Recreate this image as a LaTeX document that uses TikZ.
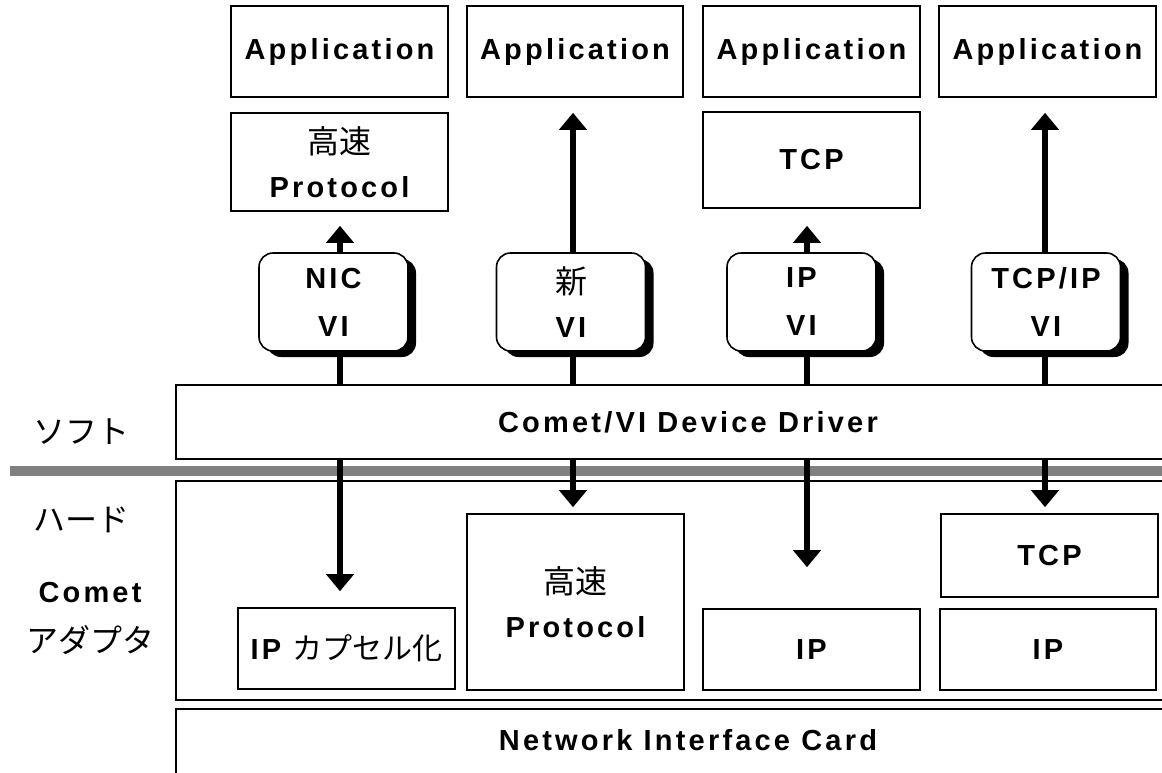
\documentclass[tikz,border=0pt]{standalone}
\usepackage{fontspec}
\setmainfont{Liberation Sans}
\newfontfamily\latinbold{Liberation Sans Bold}[LetterSpace=11]
\newfontfamily\cjkjp{Noto Sans CJK JP}
\usetikzlibrary{arrows.meta,shadows}
% bold, tracked Latin labels and Japanese labels
\newcommand\ENf{\latinbold\fontsize{29}{33}\selectfont}
\newcommand\JPf{\cjkjp\fontsize{32}{36}\selectfont}
\begin{document}
\begin{tikzpicture}[x=1pt,y=-1pt,
  box/.style={draw, line width=1.6pt, fill=white, inner sep=0pt, align=center, font=\ENf},
  vibox/.style={draw, line width=1.6pt, fill=white, rounded corners=14pt,
    minimum width=149pt, minimum height=98pt, inner sep=0pt, align=center, font=\ENf,
    drop shadow={shadow xshift=8pt, shadow yshift=-6pt, fill=black, opacity=1}},
  link/.style={line width=5.5pt},
  arr/.style={line width=5.5pt, -{Triangle[width=27pt,length=17pt]}},
  side/.style={inner sep=0pt, align=center}]
\useasboundingbox (0,0) rectangle (1162,772);

% column positions of the vertical paths
\coordinate (c1) at (340,0);
\coordinate (c2) at (573,0);
\coordinate (c3) at (807,0);
\coordinate (c4) at (1045,0);

% upper row: applications
\node[box, minimum width=217pt, minimum height=91pt] (app1) at (339.5,51.5) {Application};
\node[box, minimum width=216pt, minimum height=91pt] (app2) at (575,51.5) {Application};
\node[box, minimum width=217pt, minimum height=91pt] (app3) at (811.5,51.5) {Application};
\node[box, minimum width=217pt, minimum height=91pt] (app4) at (1047.5,51.5) {Application};

% software protocol layers
\node[box, minimum width=217pt, minimum height=98pt] (proto1) at (339.5,162)
  {{\JPf 高速}\\[11pt]Protocol};
\node[box, minimum width=217pt, minimum height=96pt] (tcp1) at (811.5,160) {TCP};

% separator between software and hardware
\fill[black!50] (10,466) rectangle (1170,476);

% driver, adapter and card layers
\node[box, minimum width=1024pt, minimum height=74pt] (drv) at (688,422) {Comet/VI Device Driver};
\node[box, minimum width=1024pt, minimum height=219pt] (hw) at (688,590.5) {};
\node[box, minimum width=1024pt, minimum height=91pt] (nic) at (688,754.5) {};
\node[side, font=\ENf] (niclabel) at (688,740) {Network Interface Card};

% hardware protocol blocks
\node[box, minimum width=217pt, minimum height=81pt] (ipc) at (346.5,648.5)
  {IP {\cjkjp\fontsize{30}{36}\selectfont カプセル化}};
\node[box, minimum width=217pt, minimum height=176pt] (proto2) at (575.5,602)
  {{\JPf 高速}\\[11pt]Protocol};
\node[box, minimum width=217pt, minimum height=81pt] (ip1) at (811.5,649.5) {IP};
\node[box, minimum width=217pt, minimum height=83pt] (tcp2) at (1049.5,555.5) {TCP};
\node[box, minimum width=216pt, minimum height=81pt] (ip2) at (1048,649.5) {IP};

% virtual interfaces
\node[vibox] (vi1) at (333.5,302) {NIC\\[15pt]VI};
\node[vibox] (vi2) at (571,302) {{\JPf 新}\\[11pt]VI};
\node[vibox] (vi3) at (801.5,302) {IP\\[15pt]VI};
\node[vibox] (vi4) at (1046,302) {TCP/IP\\[15pt]VI};

% links from the VIs to the driver
\draw[link] (c1 |- vi1.south) -- (c1 |- drv.north);
\draw[link] (c2 |- vi2.south) -- (c2 |- drv.north);
\draw[link] (c3 |- vi3.south) -- (c3 |- drv.north);
\draw[link] (c4 |- vi4.south) -- (c4 |- drv.north);

% upward arrows from the VIs
\draw[arr, shorten >=14pt] (c1 |- vi1.north) -- (c1 |- proto1.south);
\draw[arr, shorten >=15pt] (c2 |- vi2.north) -- (c2 |- app2.south);
\draw[arr, shorten >=17pt] (c3 |- vi3.north) -- (c3 |- tcp1.south);
\draw[arr, shorten >=15pt] (c4 |- vi4.north) -- (c4 |- app4.south);

% downward arrows from the driver into the adapter
\draw[arr, shorten >=16pt] (c1 |- drv.south) -- (c1 |- ipc.north);
\draw[arr, shorten >=6pt] (c2 |- drv.south) -- (c2 |- proto2.north);
\draw[arr, shorten >=41pt] (c3 |- drv.south) -- (c3 |- ip1.north);
\draw[arr, shorten >=6pt] (c4 |- drv.south) -- (c4 |- tcp2.north);

% side labels
\node[side, font=\JPf] (soft) at (81,432) {ソフト};
\node[side, font=\JPf] (hard) at (81,520) {ハード};
\node[side, font=\ENf] (comet) at (90,593) {Comet};
\node[side, font=\JPf] (adapter) at (91,640) {アダプタ};
\end{tikzpicture}
\end{document}
